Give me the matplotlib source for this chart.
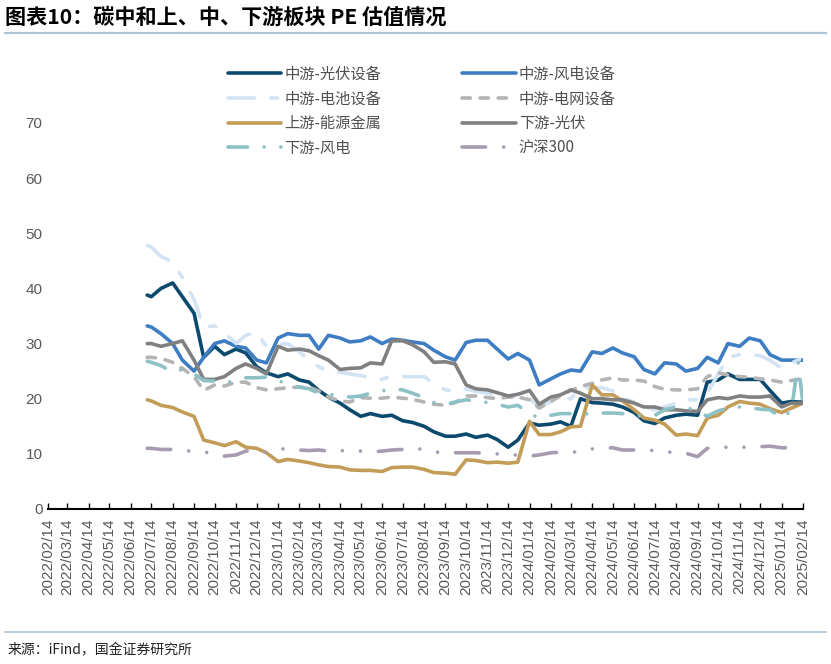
import numpy as np
import pandas as pd
import matplotlib
matplotlib.use("Agg")
import matplotlib.pyplot as plt
import matplotlib.dates as mdates
from matplotlib.lines import Line2D

plt.rcParams['font.family'] = ['Liberation Sans', 'Noto Sans CJK SC', 'DejaVu Sans']
plt.rcParams['lines.scale_dashes'] = False

# half-monthly sample dates (plus the first and a late-Feb point)
dates = ['2022-07-08']
for y, m in [(2022, m) for m in range(7, 13)] + [(2023, m) for m in range(1, 13)] \
        + [(2024, m) for m in range(1, 13)] + [(2025, 1)]:
    dates += [f'{y}-{m:02d}-14', f'{y}-{m:02d}-28']
dates += ['2025-02-07', '2025-02-14']
dates = pd.to_datetime(dates)

pv_equip = [38.8, 38.5, 40.0, 41.0, 38.5, 35.5, 27.5, 29.5, 28.0, 29.0, 28.3, 25.8, 24.7, 24.0, 24.5, 23.4,
            23.0, 21.5, 20.3, 19.2, 18.0, 16.8, 17.3, 16.8, 17.0, 16.0, 15.7, 15.0, 14.0, 13.2, 13.2, 13.6,
            13.0, 13.4, 12.6, 11.2, 12.5, 15.6, 15.2, 15.4, 15.8, 15.0, 20.0, 19.3, 19.2, 19.0, 18.5, 17.5,
            16.0, 15.5, 16.5, 17.0, 17.2, 17.0, 23.0, 23.4, 24.5, 23.5, 23.5, 23.5, 21.5, 19.2, 19.5, 19.4, 19.4]
wind_equip = [33.2, 33.0, 31.8, 30.0, 27.0, 25.0, 27.5, 30.0, 30.5, 29.5, 29.2, 27.0, 26.5, 31.0, 31.8, 31.5,
              31.5, 29.0, 31.5, 31.0, 30.3, 30.5, 31.2, 30.0, 30.8, 30.6, 30.3, 30.0, 28.8, 27.6, 27.0, 30.2,
              30.6, 30.6, 29.0, 27.2, 28.2, 27.0, 22.5, 23.6, 24.5, 25.2, 25.0, 28.5, 28.2, 29.2, 28.3, 27.6,
              25.3, 24.5, 26.5, 26.3, 25.0, 25.5, 27.5, 26.5, 30.0, 29.5, 31.0, 30.5, 28.0, 27.0, 27.0, 27.0, 27.0]
battery = [47.8, 47.5, 45.8, 44.8, 42.0, 38.0, 33.0, 33.2, 32.0, 30.0, 31.5, 32.0, 29.5, 29.8, 30.0, 28.5,
           27.0, 25.8, 25.0, 24.8, 24.5, 24.2, 23.8, 23.5, 24.2, 24.0, 24.0, 24.0, 22.8, 21.6, 21.3, 21.8,
           21.3, 21.0, 20.5, 20.3, 20.3, 20.0, 18.5, 19.5, 20.1, 20.0, 21.9, 22.0, 22.0, 21.4, 20.2, 19.4,
           18.5, 18.0, 18.5, 19.2, 19.8, 19.8, 21.0, 24.5, 27.5, 28.0, 28.0, 27.8, 27.0, 25.5, 26.5, 27.0, 27.4]
grid_equip = [27.5, 27.5, 27.3, 26.6, 25.5, 24.0, 21.5, 22.5, 22.3, 23.0, 23.0, 22.0, 21.6, 21.8, 22.0, 22.1,
              22.1, 21.4, 20.3, 19.6, 19.4, 20.2, 20.1, 20.1, 20.3, 20.1, 19.9, 19.4, 19.0, 18.8, 19.3, 20.5,
              20.5, 20.2, 20.0, 20.3, 20.3, 19.8, 18.3, 19.5, 20.5, 21.5, 22.2, 22.8, 23.4, 23.8, 23.4, 23.4,
              23.2, 22.2, 21.7, 21.6, 21.6, 21.8, 24.0, 24.7, 24.3, 24.0, 23.9, 23.6, 23.4, 23.0, 23.3, 23.5, 23.8]
metals = [19.8, 19.6, 18.8, 18.4, 17.6, 16.8, 12.5, 12.0, 11.5, 12.2, 11.2, 11.0, 10.2, 8.6, 9.0, 8.7,
          8.4, 8.0, 7.7, 7.6, 7.1, 7.0, 7.0, 6.8, 7.5, 7.6, 7.6, 7.2, 6.6, 6.5, 6.3, 8.9,
          8.8, 8.4, 8.5, 8.3, 8.5, 15.9, 13.5, 13.5, 14.0, 14.9, 15.0, 22.5, 20.7, 20.7, 19.6, 18.0,
          16.5, 16.1, 15.4, 13.4, 13.6, 13.3, 16.5, 17.0, 18.5, 19.5, 19.2, 19.0, 18.2, 17.5, 18.3, 18.8, 19.2]
pv_down = [30.0, 30.0, 29.5, 30.0, 30.5, 27.0, 23.5, 23.5, 24.0, 25.5, 26.3, 25.5, 24.5, 29.5, 28.8, 29.0,
           28.7, 27.8, 27.0, 25.3, 25.5, 25.6, 26.5, 26.3, 30.5, 30.5, 29.8, 28.5, 26.6, 26.7, 26.3, 22.5,
           21.8, 21.6, 21.1, 20.5, 20.8, 21.5, 19.0, 20.3, 20.7, 21.6, 21.0, 20.0, 20.0, 19.8, 19.8, 19.2,
           18.5, 18.5, 18.0, 18.0, 17.8, 17.7, 19.8, 20.2, 20.0, 20.5, 20.3, 20.3, 20.5, 18.5, 19.2, 19.2, 19.2]
wind_down = [26.8, 26.6, 26.0, 24.8, 25.3, 24.5, 23.3, 23.2, 22.7, 23.5, 23.8, 23.8, 23.9, 23.3, 22.6, 22.1,
             21.8, 21.0, 20.8, 20.6, 20.3, 20.5, 21.0, 21.4, 21.8, 21.6, 21.0, 20.2, 19.3, 19.0, 19.4, 19.8,
             19.6, 19.3, 19.0, 18.5, 18.8, 17.3, 16.5, 17.0, 17.3, 17.3, 17.2, 17.3, 17.4, 17.4, 17.3, 17.0,
             16.8, 17.0, 18.0, 18.5, 18.4, 17.8, 16.8, 17.8, 18.3, 18.5, 18.4, 18.1, 18.0, 16.5, 17.8, 26.5, 19.0]
hs300 = [11.0, 11.0, 10.8, 10.8, 10.7, 10.4, 10.3, 10.1, 9.6, 9.8, 10.5, 10.5, 10.3, 10.8, 11.0, 10.7,
         10.6, 10.7, 10.5, 10.6, 10.5, 10.5, 10.3, 10.5, 10.7, 10.8, 11.0, 10.8, 10.3, 10.3, 10.2, 10.2,
         10.2, 10.1, 10.0, 9.8, 9.8, 9.6, 9.8, 10.2, 10.3, 10.3, 10.4, 10.9, 11.1, 11.1, 10.7, 10.7,
         10.7, 10.6, 10.4, 10.2, 10.1, 9.5, 11.0, 11.2, 11.2, 11.2, 11.2, 11.3, 11.4, 11.1, 11.1, 11.2, 11.2]

names = ['中游-光伏设备', '中游-风电设备', '中游-电池设备', '中游-电网设备',
         '上游-能源金属', '下游-光伏', '下游-风电', '沪深300']
series = [pv_equip, wind_equip, battery, grid_equip, metals, pv_down, wind_down, hs300]
colors = ['#0B4A6E', '#3E7DC3', '#D2E3F4', '#B4B4B4', '#C39D58', '#808080', '#8CC1C6', '#A69BB0']
dashes = [None, None, (19, 12, 4.6, 12), (6, 7), None, None, (14, 12, 0.01, 12),
          (17, 13, 0.01, 13, 0.01, 13)]

fig = plt.figure(figsize=(8.31, 6.64), dpi=100)
ax = fig.add_axes([48 / 831, 1 - 509 / 664, (803 - 48) / 831, (509 - 123) / 664])

lw = 2.6
handles = []
for name, vals, c, d in zip(names, series, colors, dashes):
    if d is None:
        ln, = ax.plot(dates, vals, color=c, lw=lw, solid_capstyle='round', solid_joinstyle='round', label=name)
    else:
        ln, = ax.plot(dates, vals, color=c, lw=lw, dashes=d, dash_capstyle='round', label=name)
    handles.append(ln)

ax.set_ylim(0, 70)
ax.set_yticks(np.arange(0, 71, 10))
ax.set_xlim(pd.Timestamp('2022-02-14'), pd.Timestamp('2025-02-14'))
ax.xaxis.set_major_locator(mdates.MonthLocator(bymonthday=14))
ax.xaxis.set_major_formatter(mdates.DateFormatter('%Y/%m/%d'))
ax.tick_params(axis='x', direction='in', length=4, width=1, color='black', pad=7,
               labelrotation=90, labelsize=11, labelcolor='#595959')
ax.tick_params(axis='y', length=0, pad=4, labelsize=11, labelcolor='#595959')
for s in ['top', 'right', 'left']:
    ax.spines[s].set_visible(False)
ax.spines['bottom'].set_linewidth(1.5)
ax.spines['bottom'].set_color('black')

order = [0, 2, 4, 6, 1, 3, 5, 7]
leg = fig.legend([handles[i] for i in order], [names[i] for i in order], ncol=2,
                 loc='upper left', bbox_to_anchor=(214 / 831, 1 - 52 / 664), frameon=False,
                 prop={'family': ['Noto Sans CJK SC', 'DejaVu Sans'], 'size': 11},
                 handlelength=3.5, handletextpad=0.2, columnspacing=5.3, labelspacing=0.5)
for t in leg.get_texts():
    t.set_color('#505050')

fig.text(5 / 831, 1 - 17 / 664, '图表10：碳中和上、中、下游板块 PE 估值情况', fontsize=15.2,
         fontweight='bold', va='center', ha='left', family=['Noto Sans CJK SC', 'DejaVu Sans'])
fig.add_artist(Line2D([5 / 831, 826 / 831], [1 - 33 / 664, 1 - 33 / 664], color='#AFC3D3', lw=1.6))
fig.add_artist(Line2D([5 / 831, 826 / 831], [1 - 632 / 664, 1 - 632 / 664], color='#AFC3D3', lw=1.2))
fig.text(8 / 831, 1 - 650 / 664, '来源：iFind，国金证券研究所', fontsize=10, va='center', ha='left',
         family=['Noto Sans CJK SC', 'DejaVu Sans'], color='#222222')

fig.savefig('out.png', dpi=100)
